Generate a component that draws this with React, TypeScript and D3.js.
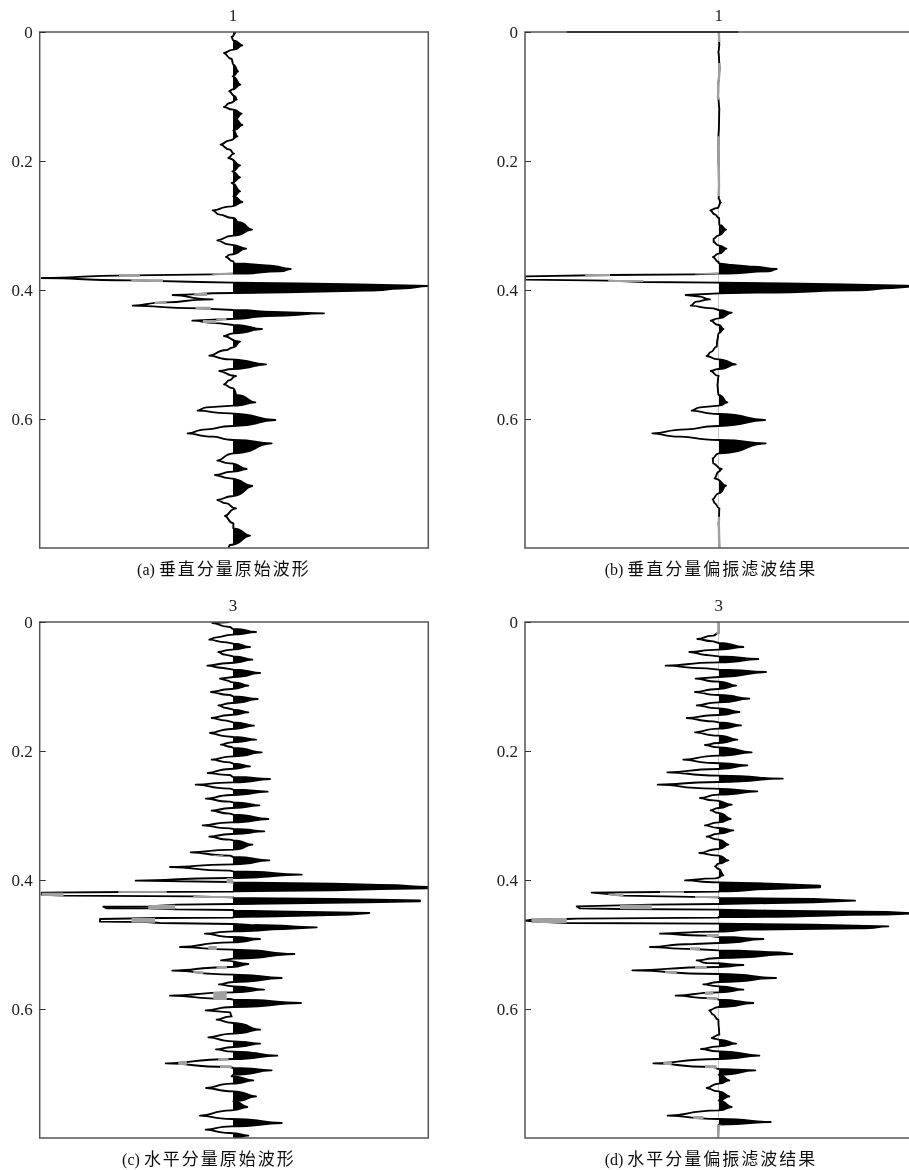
import React, { useEffect, useRef } from 'react';
import * as d3 from 'd3';

type Node = [number, number]; // [sample, amplitude]
type Band = [number, number, number, number]; // [sample from, sample to, amp from, amp to]

// One sample is 1/1935 s, the plots run to 0.8 s
const SAMPLES_PER_SEC = 1935;
const TIME_MAX = 0.8;
const timeTicks = [0, 0.2, 0.4, 0.6];

const captionLatin = ['(a)', '(b)', '(c)', '(d)'];
const captionCjk = ['垂直分量原始波形', '垂直分量偏振滤波结果', '水平分量原始波形', '水平分量偏振滤波结果'];
const traceNumbers = ['1', '1', '3', '3'];

const traceA: Node[] = [
  [0, 9], [15, -4], [25, 1], [40, 28], [53, 1], [63, -27], [81, -4], [98, 1], [118, 15], [133, -1], [158, 22], [173, -4],
  [178, -11], [193, 6], [203, 11], [213, -9], [225, -27], [233, 1], [245, 26], [261, 6], [279, 28], [295, 1], [313, 13],
  [325, -9], [338, -37], [353, -9], [365, 3], [378, -14], [400, 21], [418, -2], [436, 21], [453, -4], [478, 21], [493, 1],
  [510, 28], [523, -4], [535, -61], [548, -39], [558, 1], [570, 15], [593, 57], [611, 1], [625, -47], [638, -9], [650, 39],
  [668, -9], [675, -21], [688, 1], [694, 3], [700, 100], [711, 173], [718, 140], [725, 1], [727, -60], [730, -300],
  [738, -574], [745, -300], [750, -100], [752, 1], [754, 200], [757, 380], [762, 586], [770, 500], [776, 400], [781, 160],
  [783, 1], [789, -181], [802, -61], [811, -199], [821, -301], [829, -99], [834, 1], [840, 120], [844, 273], [852, 100],
  [861, -9], [866, -122], [874, -39], [879, 1], [891, 87], [904, 1], [912, -27], [929, 21], [946, 1], [954, -19], [971, -71],
  [982, -9], [997, 99], [1011, 1], [1017, -41], [1032, 9], [1044, -9], [1057, -27], [1069, 1], [1089, 11], [1111, 67],
  [1121, 1], [1126, -79], [1136, -106], [1144, -9], [1164, 127], [1182, 1], [1192, -79], [1204, -136], [1214, -59],
  [1224, 1], [1234, 116], [1264, 1], [1286, -47], [1294, -9], [1311, 41], [1319, 1], [1329, -54], [1339, -9], [1362, 58],
  [1392, 1], [1404, -47], [1414, -19], [1429, 9], [1452, -24], [1474, 1], [1489, 1], [1511, 51], [1539, -9], [1549, -14],
];

const traceB: Node[] = [
  [0, 0], [40, 2], [60, -1], [110, 3], [150, -1], [195, -2], [230, 2], [300, 0], [350, -1], [400, 0], [460, 1], [500, 0],
  [512, 6], [528, -4], [535, -25], [548, -10], [558, 1], [578, 2], [593, 22], [610, 0], [620, -15], [630, -15], [640, 0],
  [650, 23], [665, 0], [675, -17], [690, 0], [694, 0], [698, 30], [703, 90], [711, 174], [718, 150], [725, 0], [727, -75],
  [729, -330], [733, -581], [743, -581], [746, -330], [750, -225], [752, 0], [754, 200], [757, 380], [761, 560], [763, 590],
  [768, 520], [775, 404], [782, 114], [784, 0], [789, -99], [794, -56], [802, -26], [809, -66], [821, -84], [829, -16],
  [834, 0], [842, 39], [859, 0], [866, -24], [879, 0], [891, 14], [904, 0], [924, -4], [944, -6], [959, -21], [972, -36],
  [982, 0], [997, 51], [1011, 0], [1017, -24], [1032, 0], [1059, -4], [1089, 0], [1111, 26], [1121, 0], [1126, -56],
  [1136, -81], [1146, 0], [1164, 139], [1182, 0], [1192, -96], [1204, -199], [1214, -116], [1224, 0], [1234, 141], [1264, 0],
  [1279, -18], [1294, -16], [1311, 9], [1319, 0], [1339, -12], [1361, 22], [1384, 0], [1402, -18], [1414, -11], [1429, 2],
  [1474, 0], [1549, 2],
];

const traceC: Node[] = [
  [0, -10], [3, -62], [15, -9], [21, 1], [30, 69], [38, 1], [46, -49], [53, -71], [61, -19], [65, 1], [75, 51], [83, -4],
  [90, -44], [98, -24], [103, 1], [113, 58], [123, -9], [131, -77], [138, -29], [143, 1], [153, 81], [165, 1], [170, -39],
  [175, -19], [181, 1], [191, 46], [201, -4], [210, -66], [219, -9], [223, 1], [231, 74], [243, -4], [250, -44], [258, -19],
  [263, 1], [271, 46], [279, -9], [288, -64], [296, -19], [301, 1], [311, 63], [321, -4], [333, -69], [343, -19], [345, 1],
  [353, 69], [361, -4], [368, -36], [375, -4], [378, 1], [391, 86], [403, 1], [413, -64], [421, -9], [425, 1], [433, 51],
  [441, -9], [453, -76], [459, -9], [465, 1], [471, 111], [481, 1], [488, -112], [500, -9], [503, 1], [509, 104], [519, -4],
  [530, -81], [539, -9], [541, 1], [550, 79], [558, -4], [566, -64], [575, -9], [578, 1], [591, 106], [601, -4], [610, -91],
  [619, -9], [621, 1], [628, 94], [636, -4], [644, -71], [653, -9], [655, 1], [668, 58], [683, 1], [691, -127], [701, -9],
  [705, 1], [715, 109], [727, 1], [735, -189], [746, -9], [748, 1], [758, 206], [768, -9], [776, -292], [780, -9], [781, 1],
  [785, 301], [789, 441], [795, 590], [799, 590], [801, 441], [805, 301], [808, 1], [809, 1], [810, -319], [812, -574],
  [818, -574], [821, -509], [823, -119], [826, 1], [828, 1], [831, 301], [835, 561], [838, 561], [841, 401], [846, 1],
  [848, -169], [853, -254], [854, -389], [859, -379], [859, -254], [862, -169], [864, 1], [866, 1], [868, 131], [873, 409],
  [878, 351], [883, 131], [885, 1], [887, 1], [888, -219], [891, -399], [899, -399], [900, -259], [903, -219], [906, 1],
  [909, 51], [916, 251], [921, 151], [928, 1], [935, -84], [945, -4], [951, 81], [961, -4], [975, -159], [983, 1], [996, 184],
  [1010, 1], [1015, -36], [1026, 46], [1035, -4], [1046, -182], [1058, 1], [1068, 146], [1080, 1], [1087, -42], [1093, 1],
  [1103, 93], [1111, 1], [1121, -189], [1131, -9], [1133, 1], [1143, 204], [1155, 1], [1165, -82], [1171, -9], [1183, -4],
  [1193, -49], [1203, 1], [1223, 81], [1235, 1], [1246, -74], [1258, 1], [1265, 81], [1275, 1], [1282, -51], [1289, 1],
  [1301, 133], [1311, 1], [1324, -202], [1335, -9], [1338, 1], [1345, 116], [1358, 1], [1363, -4], [1375, 61], [1385, -4],
  [1398, -81], [1408, 1], [1423, 69], [1438, 1], [1455, 43], [1465, -4], [1481, -99], [1491, -4], [1503, 146], [1513, -4],
  [1523, -82], [1533, -9], [1541, 46], [1548, 1],
];

const traceD: Node[] = [
  [0, 0], [33, 0], [41, -16], [51, -64], [58, -16], [63, 0], [75, 74], [83, 0], [90, -88], [100, -26], [103, 0], [111, 119],
  [121, 0], [131, -159], [139, -36], [143, 0], [150, 142], [165, 0], [170, -69], [179, 0], [191, 52], [201, 0], [210, -71],
  [219, 0], [230, 92], [241, 0], [250, -66], [259, 0], [270, 62], [279, 0], [288, -96], [298, -16], [301, 0], [310, 67],
  [320, 0], [331, -71], [341, 0], [353, 56], [363, 0], [369, -41], [376, 0], [391, 99], [401, 0], [413, -106], [423, -16],
  [430, 86], [441, 0], [451, -154], [461, 0], [470, 192], [480, 0], [488, -183], [500, -16], [508, 116], [518, 0], [528, -56],
  [535, -16], [548, 39], [558, 0], [565, -24], [573, 0], [591, 36], [601, 0], [610, -41], [618, 0], [625, 44], [635, 0],
  [644, -36], [653, 0], [668, 29], [681, 0], [693, -58], [701, 0], [715, 29], [725, 0], [733, -11], [741, 0], [760, 14],
  [769, -11], [775, -101], [781, 0], [785, 154], [791, 304], [796, 304], [801, 154], [808, 0], [809, 0], [810, -106],
  [810, -176], [812, -381], [816, -331], [821, -286], [826, 0], [828, 0], [831, 284], [836, 409], [841, 284], [846, 0],
  [848, -201], [853, -426], [859, -416], [861, -296], [863, 0], [866, 154], [870, 504], [874, 590], [878, 504], [885, 0],
  [887, 0], [890, -426], [891, -456], [893, -561], [896, -581], [898, -561], [903, -456], [905, 0], [908, 284], [913, 509],
  [919, 424], [923, 84], [929, 0], [935, -176], [941, -36], [945, 0], [951, 134], [963, 0], [966, -76], [975, -206],
  [981, -76], [985, 0], [991, 184], [996, 221], [1008, 0], [1015, -66], [1023, -36], [1029, 74], [1035, 0], [1045, -259],
  [1056, 0], [1068, 172], [1080, 0], [1087, -46], [1093, 0], [1103, 74], [1111, 0], [1121, -129], [1129, -16], [1133, 0],
  [1143, 104], [1155, 0], [1165, -28], [1178, -16], [1193, -1], [1213, 0], [1238, 2], [1248, -21], [1253, 0], [1265, 52],
  [1273, 0], [1281, -53], [1288, 0], [1301, 122], [1311, 0], [1324, -196], [1335, -16], [1341, 0], [1345, 110], [1358, 0],
  [1375, 32], [1385, 0], [1398, -36], [1408, 0], [1423, 32], [1435, 0], [1455, 39], [1465, 0], [1481, -153], [1491, 0],
  [1500, 156], [1508, 0], [1548, -2],
];

// Stretches of the trace that come out grey in the scan
const greyA: Band[] = [
  [720, 728, -62, 0], [726, 734, -342, -280], [742, 750, -305, -210], [778, 792, -116, -78], [806, 816, -235, -200],
  [824, 834, -112, -67], [854, 864, -50, -20], [864, 874, -90, -50],
];
const greyB: Band[] = [
  [0, 30, -8, 8], [93, 203, -8, 8], [313, 493, -8, 8], [1454, 1549, -8, 8], [720, 727, -71, 0], [726, 733, -400, -326],
  [744, 750, -331, -226],
];
const greyC: Band[] = [
  [806, 812, -344, -199], [812, 826, -574, -509], [822, 829, -119, 1], [848, 862, -254, -174], [888, 902, -304, -234],
  [972, 984, -74, -49], [1048, 1058, -119, -89], [1032, 1040, -49, -19], [1108, 1134, -59, -19], [1316, 1330, -164, -139],
  [1308, 1316, -44, -14], [1330, 1340, -39, -4], [700, 708, -59, -29], [768, 790, -19, 1],
];
const greyD: Band[] = [
  [0, 35, -8, 8], [1508, 1549, -8, 8], [808, 813, -176, -104], [815, 825, -331, -286], [822, 828, -71, 0],
  [848, 862, -296, -201], [888, 904, -561, -456], [936, 945, -36, 0], [976, 986, -86, -56], [1030, 1040, -71, -36],
  [1048, 1058, -161, -126], [1108, 1118, -41, -16], [1126, 1136, -36, -4], [1316, 1330, -166, -141], [1330, 1340, -41, -6],
  [1482, 1494, -76, -46],
];
// Darker run along the top frame line of panel b
const topRunB: [number, number] = [-456, 59];

const sampleMax = TIME_MAX * SAMPLES_PER_SEC;

// Curve that keeps a lobe fat near the zero line and thin at its tip.
// Short segments (the hand read shoulders of the big peaks) stay straight.
const lobeCurve = (centerX: number) => (context: any) => {
  let px = 0, py = 0, count = 0, inArea = NaN;
  return {
    areaStart() { inArea = 0; },
    areaEnd() { inArea = NaN; },
    lineStart() { count = 0; },
    lineEnd() {
      if (inArea || (inArea !== 0 && count === 1)) context.closePath();
      inArea = 1 - inArea;
    },
    point(x: number, y: number) {
      if (count === 0) {
        if (inArea) context.lineTo(x, y); else context.moveTo(x, y);
      } else if (Math.abs(y - py) < 2 || x === px) {
        context.lineTo(x, y);
      } else {
        const fromBase = Math.abs(px - centerX) <= Math.abs(x - centerX);
        const dx = x - px, dy = y - py;
        if (fromBase) context.bezierCurveTo(px + 0.7 * dx, py + 0.12 * dy, px + 0.5 * dx, py + 0.88 * dy, x, y);
        else context.bezierCurveTo(px + 0.5 * dx, py + 0.12 * dy, px + 0.3 * dx, py + 0.88 * dy, x, y);
      }
      count += 1;
      px = x; py = y;
    },
  };
};

const Panel = ({ id, left, right, top, bottom, ampMin, ampMax, trace, grey, index, captionX, topRun }: any) => {
  const axisRef = useRef<SVGGElement>(null);

  const x = d3.scaleLinear().domain([ampMin, ampMax]).range([left, right]);
  const y = d3.scaleLinear().domain([0, sampleMax]).range([top, bottom]);
  const time = d3.scaleLinear().domain([0, TIME_MAX]).range([top, bottom]);

  const curve = lobeCurve(x(0)) as any;
  const line = d3.line<Node>().x(d => x(d[1])).y(d => y(d[0])).curve(curve);
  const area = d3.area<Node>().x0(x(0)).x1(d => x(d[1])).y(d => y(d[0])).curve(curve);

  // Axis with inward ticks
  useEffect(() => {
    const g = d3.select(axisRef.current);
    g.selectAll('*').remove();
    g.call(d3.axisLeft(time).tickValues(timeTicks).tickSizeInner(-6).tickSizeOuter(0).tickPadding(7).tickFormat(d => String(d)) as any);
    g.select('.domain').remove();
    g.selectAll('line').attr('stroke', '#333').attr('stroke-width', 1);
    g.selectAll('text')
      .attr('fill', '#222')
      .attr('font-size', 17)
      .attr('font-family', '"Liberation Serif", serif');
  }, []);

  return (
    <g>
      <defs>
        <clipPath id={`${id}-frame`}>
          <rect x={left} y={top} width={right - left} height={bottom - top} />
        </clipPath>
        <clipPath id={`${id}-pos`}>
          <rect x={x(0)} y={top} width={right - x(0)} height={bottom - top} />
        </clipPath>
        <clipPath id={`${id}-grey`}>
          {grey.map((b: Band, i: number) => (
            <rect key={i} x={x(b[2])} y={y(b[0])} width={x(b[3]) - x(b[2])} height={y(b[1]) - y(b[0])} />
          ))}
        </clipPath>
      </defs>
      <g clipPath={`url(#${id}-frame)`}>
        <g clipPath={`url(#${id}-pos)`}>
          <path d={area(trace) as string} fill="#000" />
        </g>
        <path d={line(trace) as string} fill="none" stroke="#000" strokeWidth={1.9} strokeLinejoin="round" />
        <g clipPath={`url(#${id}-grey)`}>
          <path d={area(trace) as string} fill="#a0a0a0" />
          <path d={line(trace) as string} fill="none" stroke="#a0a0a0" strokeWidth={2.4} strokeLinejoin="round" />
        </g>
      </g>
      <rect x={left} y={top} width={right - left} height={bottom - top} fill="none" stroke="#555" strokeWidth={1.5} />
      {topRun && <line x1={x(topRun[0])} x2={x(topRun[1])} y1={top} y2={top} stroke="#222" strokeWidth={1.5} />}
      <g ref={axisRef} transform={`translate(${left},0)`} />
      <text x={x(0)} y={top - 11} textAnchor="middle" fontSize={17} fill="#222" fontFamily='"Liberation Serif", serif'>
        {traceNumbers[index]}
      </text>
      <text x={captionX} y={bottom + 27} textAnchor="middle" fill="#111" fontFamily='"Liberation Serif", "Noto Sans CJK SC", serif'>
        <tspan fontSize={16}>{captionLatin[index]} </tspan>
        <tspan fontSize={17} letterSpacing={2} fontFamily='"Noto Sans CJK SC", sans-serif'>{captionCjk[index]}</tspan>
      </text>
    </g>
  );
};

export default function App() {
  return (
    <svg width={909} height={1170} style={{ position: 'absolute', left: 0, top: 0, background: '#fff' }}>
      <defs>
        <filter id="scan" x="0" y="0" width="100%" height="100%">
          <feGaussianBlur stdDeviation={0.45} />
        </filter>
      </defs>
      <g filter="url(#scan)">
        <rect x={0} y={0} width={909} height={1170} fill="#fff" />
        <Panel id="a" index={0} left={39.7} right={428.3} top={32} bottom={548} ampMin={-580} ampMax={586} trace={traceA} grey={greyA} captionX={224} />
        <Panel id="b" index={1} left={525} right={913.7} top={32} bottom={548} ampMin={-581} ampMax={585} trace={traceB} grey={greyB} captionX={711} topRun={topRunB} />
        <Panel id="c" index={2} left={39.7} right={428.3} top={622} bottom={1138} ampMin={-580} ampMax={586} trace={traceC} grey={greyC} captionX={209} />
        <Panel id="d" index={3} left={525} right={913.7} top={622} bottom={1138} ampMin={-581} ampMax={585} trace={traceD} grey={greyD} captionX={711} />
      </g>
    </svg>
  );
}
